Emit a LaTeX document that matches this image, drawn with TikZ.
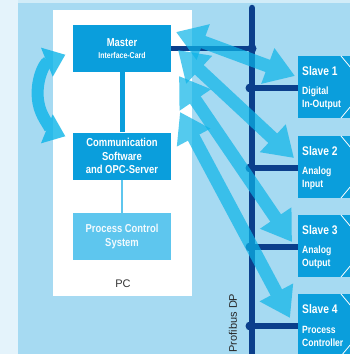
\documentclass[tikz,border=0pt]{standalone}
\usepackage{fontspec}
\setmainfont{Liberation Sans}
\newfontfamily\cond[FakeStretch=0.82]{Liberation Sans}
\usetikzlibrary{arrows.meta}
\definecolor{bgblue}{HTML}{A6DAF2}
\definecolor{pale}{HTML}{E4F3FB}
\definecolor{boxblue}{HTML}{0A9EDC}
\definecolor{pcsblue}{HTML}{5EC6EE}
\definecolor{navy}{HTML}{0B3F8C}
\definecolor{arrc}{HTML}{0CB4E8}
\definecolor{labelc}{HTML}{333333}
\begin{document}
\begin{tikzpicture}[x=1pt,y=-1pt,
  pcbox/.style={fill=boxblue, draw=none, minimum width=98pt, minimum height=47pt, inner sep=0pt,
    text=white, align=center, font=\cond\bfseries\fontsize{11.5}{13.5}\selectfont},
  slavebox/.style={fill=boxblue, draw=none, minimum width=62pt, minimum height=62pt, inner sep=0pt, anchor=north west},
  slavetitle/.style={anchor=west, inner sep=0pt, text=white, font=\cond\bfseries\fontsize{12.5}{14}\selectfont},
  slavetext/.style={anchor=west, inner sep=0pt, text=white, align=left, font=\cond\bfseries\fontsize{10.5}{12.5}\selectfont},
  busline/.style={draw=navy, line width=6.5pt},
  branch/.style={draw=navy, line width=5.5pt},
  busdot/.style={fill=navy, draw=none},
  bigarrow/.style={draw=arrc, line width=13pt, {Triangle[width=36pt,length=29pt]}-{Triangle[width=36pt,length=29pt]}},
  curvarrow/.style={draw=arrc, line width=12pt, {Triangle[width=30pt,length=20pt]}-{Triangle[width=30pt,length=20pt]}},
  deco/.style={draw=white, line width=0.8pt}
]
\useasboundingbox (0,0) rectangle (350,354);
% background
\fill[bgblue] (0,0) rectangle (350,354);
\fill[pale] (0,0) rectangle (18,354);
\fill[pale!70!bgblue] (18,0) rectangle (350,3);
% PC frame
\fill[white] (53,10) rectangle (192,296);
\node[text=labelc, font=\fontsize{11}{13}\selectfont] (pclabel) at (123,284) {PC};

% curved arrow on the left
\begin{scope}[transparency group, opacity=0.8]
\draw[curvarrow] (65.4,54.7) arc[start angle=112, end angle=248, radius=44pt];
\end{scope}

% bus
\coordinate (bustop) at (252,8);
\coordinate (busbot) at (252,358);
\draw[busline, line cap=round] (bustop) -- (busbot);

% PC boxes
\node[pcbox] (master) at (122,48.5) {\fontsize{11.5}{12}\selectfont Master\\[-1pt]{\fontsize{8.5}{10}\selectfont Interface-Card}};
\node[pcbox] (comm) at (122,156) {Communication\\Software\\and OPC-Server};
\node[pcbox, fill=pcsblue, text=white!92!pcsblue] (pcs) at (122,236.5) {Process Control\\System};
\draw[draw=boxblue, line width=5pt] (master.south) -- (comm.north);
\draw[draw=pcsblue, line width=1.5pt] (comm.south) -- (pcs.north);

% master to bus
\coordinate (mjoin) at (252,48.5);
\draw[branch] (master.east) -- (mjoin);
\fill[busdot] (mjoin) circle (4.5pt);

% slaves
\foreach \i/\T/\a/\b in {1/56/Digital/In-Output, 2/136/Analog/Input, 3/215/Analog/Output, 4/294/Process/Controller}{
  \node[slavebox] (slave\i) at (298,\T) {};
  \coordinate (j\i) at (250,\T+32);
  \draw[branch] (j\i) -- (slave\i.west |- j\i);
  \fill[busdot] (j\i) circle (4.5pt);
  \draw[deco] (341,\T) -- (351,\T+12);
  \draw[deco] (341,\T+62) -- (351,\T+50);
  \node[slavetitle] (st\i) at (302,\T+15) {Slave \i};
  \node[slavetext] (sa\i) at (302,\T+36) {\a};
  \node[slavetext] (sb\i) at (302,\T+48.5) {\b};
}

% big double arrows
\coordinate (a1s) at (176,32);  \coordinate (a1e) at (295,76);
\coordinate (a2s) at (178,50);  \coordinate (a2e) at (294,158);
\coordinate (a3s) at (179,76);  \coordinate (a3e) at (292,242);
\coordinate (a4s) at (180,112); \coordinate (a4e) at (290,318);
\foreach \k in {1,2,3,4}{
  \begin{scope}[transparency group, opacity=0.7]
  \draw[bigarrow] (a\k s) -- (a\k e);
  \end{scope}
}

% bus label
\node[rotate=90, text=black!85, font=\fontsize{11}{13}\selectfont, inner sep=0pt] (buslabel) at (233,323) {Profibus DP};
\end{tikzpicture}
\end{document}
